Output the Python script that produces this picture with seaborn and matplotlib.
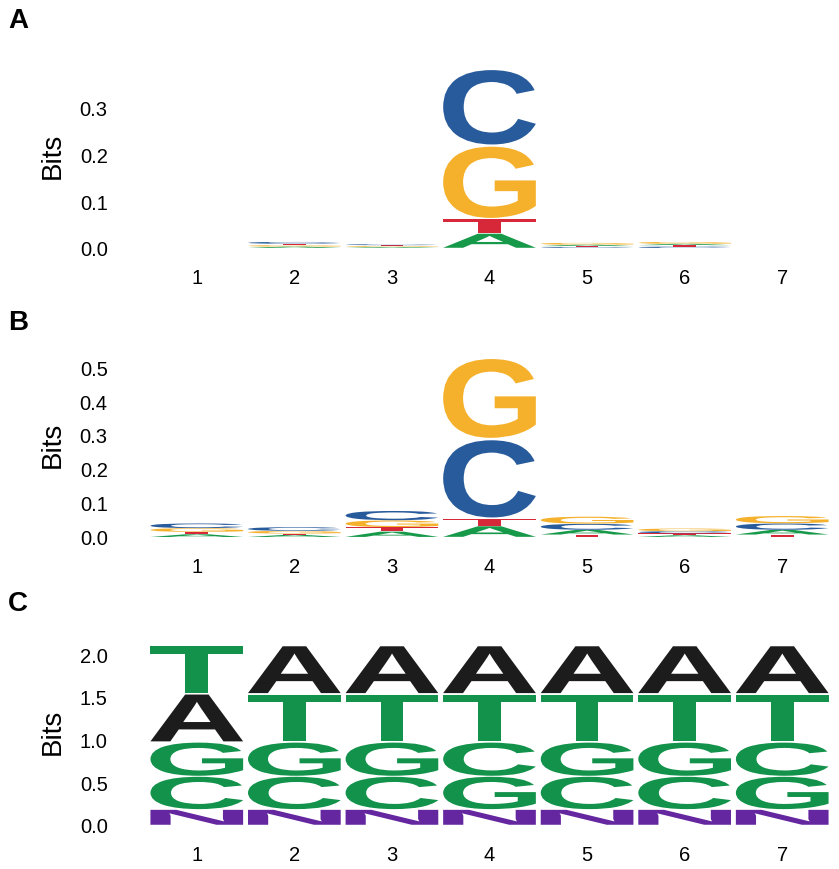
import matplotlib
matplotlib.use("Agg")
import pandas as pd
import seaborn as sns
from matplotlib import pyplot as plt
from matplotlib.textpath import TextPath
from matplotlib.patches import PathPatch
from matplotlib.font_manager import FontProperties
from matplotlib.transforms import Affine2D

positions = [1, 2, 3, 4, 5, 6, 7]

# stacks are listed bottom -> top, heights in bits
a_order = ["ACGT", "AGTC", "AGTC", "ATGC", "CTAG", "CTAG", "ACGT"]
a_bits = [[0.0, 0.0, 0.0, 0.0],
          [0.003, 0.003, 0.003, 0.004],
          [0.002, 0.002, 0.002, 0.002],
          [0.031, 0.031, 0.157, 0.164],
          [0.002, 0.002, 0.003, 0.004],
          [0.003, 0.003, 0.003, 0.004],
          [0.0, 0.0, 0.0, 0.0]]

b_order = ["ATGC", "ATGC", "ATGC", "ATCG", "TACG", "ATCG", "TACG"]
b_bits = [[0.008, 0.007, 0.011, 0.014],
          [0.006, 0.004, 0.008, 0.011],
          [0.016, 0.013, 0.020, 0.028],
          [0.032, 0.022, 0.234, 0.239],
          [0.007, 0.014, 0.018, 0.021],
          [0.005, 0.006, 0.006, 0.008],
          [0.007, 0.014, 0.019, 0.022]]

c_order = ["NCGAT", "NCGTA", "NCGTA", "NGCTA", "NCGTA", "NCGTA", "NGCTA"]
c_bits = [[0.18, 0.39, 0.40, 0.565, 0.565],
          [0.18, 0.39, 0.40, 0.565, 0.565],
          [0.18, 0.39, 0.40, 0.565, 0.565],
          [0.18, 0.39, 0.40, 0.565, 0.565],
          [0.18, 0.39, 0.40, 0.565, 0.565],
          [0.18, 0.39, 0.40, 0.565, 0.565],
          [0.18, 0.39, 0.40, 0.565, 0.565]]

a_ticks = [0.0, 0.1, 0.2, 0.3]
b_ticks = [0.0, 0.1, 0.2, 0.3, 0.4, 0.5]
c_ticks = [0.0, 0.5, 1.0, 1.5, 2.0]

nt_colors = {'A': '#17994A', 'C': '#285B9B', 'G': '#F5B12C', 'T': '#D62839'}
c_colors = {'A': '#1C1C1C', 'C': '#12924A', 'G': '#12924A', 'T': '#12924A', 'N': '#6527A0'}


def to_df(orders, bits) -> pd.DataFrame:
    record = []
    for pos, order, heights in zip(positions, orders, bits):
        bottom = 0.0
        for ch, h in zip(order, heights):
            record.append([pos, ch, h, bottom])
            bottom += h
    return pd.DataFrame(record, columns=['pos', 'letter', 'bits', 'bottom'])


letter_font = FontProperties(family='Liberation Sans', weight='bold')


def draw_letter(ax, ch, x, bottom, height, color, width=0.95, vpad=0.03):
    path = TextPath((0, 0), ch, size=1, prop=letter_font)
    ext = path.get_extents()
    h = height * (1 - vpad)
    tr = Affine2D().translate(-ext.x0, -ext.y0) \
        .scale(width / ext.width, h / ext.height) \
        .translate(x - width / 2, bottom + height * vpad / 2)
    ax.add_patch(PathPatch(tr.transform_path(path), facecolor=color,
                           edgecolor='none', transform=ax.transData))


def plot_logo(ax, df, colors, ticks, ymax):
    for _, row in df.iterrows():
        if row['bits'] > 0:
            draw_letter(ax, row['letter'], row['pos'], row['bottom'], row['bits'], colors[row['letter']])
    ax.set_xlim(0.5, 7.5)
    ax.set_ylim(0, ymax)
    ax.set_xticks(positions)
    ax.set_xticklabels([str(p) for p in positions])
    ax.set_yticks(ticks)
    ax.set_yticklabels([f'{t:.1f}' for t in ticks])
    ax.tick_params(axis='x', length=0, pad=14.5, labelsize=14.5, labelcolor='black')
    ax.tick_params(axis='y', length=0, pad=29, labelsize=14.5, labelcolor='black')
    ax.set_ylabel('Bits', fontsize=20, va='center', color='black')
    ax.yaxis.set_label_coords(-0.14, 0.5)
    sns.despine(ax=ax, left=True, bottom=True)


if __name__ == "__main__":
    sns.set_theme(style="white")
    plt.rcParams['font.family'] = ['Liberation Sans', 'DejaVu Sans']

    fig = plt.figure(figsize=(8.39, 8.70), dpi=100)
    left, width = 148 / 839, 683 / 839
    ax_a = fig.add_axes([left, 621 / 870, width, 187 / 870])
    ax_b = fig.add_axes([left, 332 / 870, width, 187 / 870])
    ax_c = fig.add_axes([left, 44 / 870, width, 188 / 870])

    plot_logo(ax_a, to_df(a_order, a_bits), nt_colors, a_ticks, 0.4)
    plot_logo(ax_b, to_df(b_order, b_bits), nt_colors, b_ticks, 0.55)
    plot_logo(ax_c, to_df(c_order, c_bits), c_colors, c_ticks, 2.2)

    for label, y in [('A', 28), ('B', 330), ('C', 611)]:
        fig.text(8 / 839, 1 - y / 870, label, fontsize=20, fontweight='bold',
                 ha='left', va='baseline', color='black')

    fig.savefig('out.png', dpi=100, facecolor='white')
